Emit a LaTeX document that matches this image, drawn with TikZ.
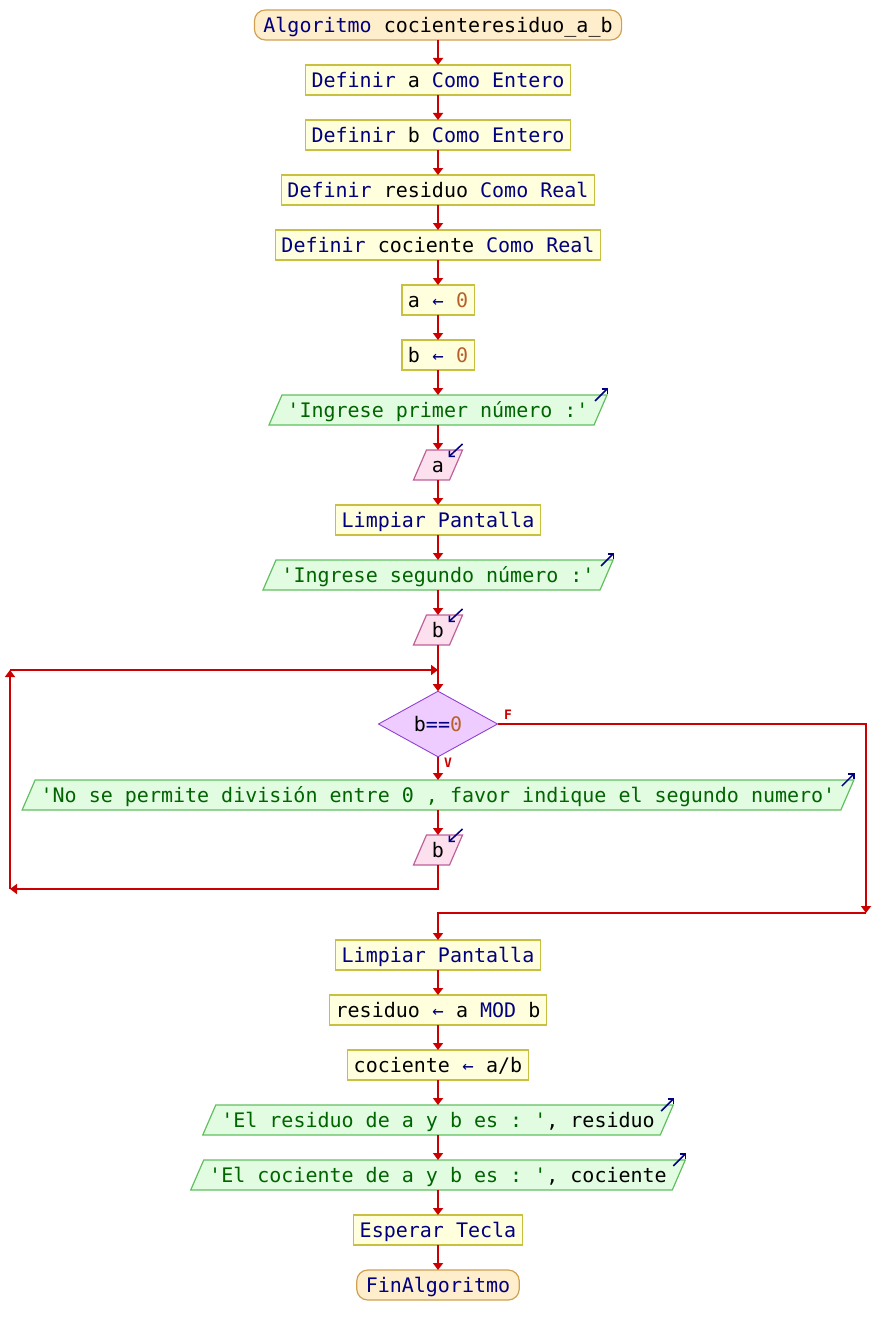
\documentclass[tikz,border=0pt]{standalone}
\usepackage{fontspec}
\setmonofont{DejaVu Sans Mono}
\usetikzlibrary{arrows.meta,shapes.geometric}
\definecolor{kw}{HTML}{000080}
\definecolor{strc}{HTML}{006400}
\definecolor{numc}{HTML}{B8602A}
\definecolor{arrc}{HTML}{CC0000}
\definecolor{boxfill}{HTML}{FFFFDD}
\definecolor{boxline}{HTML}{C8C040}
\definecolor{outfill}{HTML}{E2FCE2}
\definecolor{outline}{HTML}{60C060}
\definecolor{infill}{HTML}{FCE0EE}
\definecolor{inline}{HTML}{C0609A}
\definecolor{difill}{HTML}{EECCFF}
\definecolor{diline}{HTML}{9040D0}
\definecolor{tfill}{HTML}{FFEECC}
\definecolor{tline}{HTML}{D0A050}
\pgfdeclarelayer{bg}
\pgfsetlayers{bg,main}
\newcommand\Kw[1]{\textcolor{kw}{#1}}
\newcommand\Str[1]{\textcolor{strc}{#1}}
\newcommand\Num[1]{\textcolor{numc}{#1}}
\newcommand\Asg{\makebox[12.04pt]{\textcolor{kw}{\fontsize{19}{19}\selectfont ←}}}
\tikzset{
 base/.style={font=\ttfamily\fontsize{20}{24}\selectfont, text height=16pt, text depth=1.4pt, minimum height=30pt, inner ysep=0pt, outer sep=0pt},
 proc/.style={base, draw=boxline, fill=boxfill, line width=1.2pt, inner xsep=6pt},
 term/.style={base, draw=tline, fill=tfill, line width=1.2pt, rounded corners=11pt, inner xsep=9pt},
 iotext/.style={base, inner xsep=0pt},
 dec/.style={base, shape=diamond, draw=diline, fill=difill, line width=0.9pt, minimum width=119pt, minimum height=59pt, inner sep=0pt},
 flow/.style={draw=arrc, line width=2pt, -{Triangle[length=7pt,width=10pt]}},
 outshape/.style={draw=outline, fill=outfill, line width=1.2pt},
 inshape/.style={draw=inline, fill=infill, line width=1.2pt},
 ioarrow/.style={draw=kw, line width=1.5pt, -{Straight Barb[length=4pt,width=8pt]}},
 lbl/.style={text=arrc, font=\ttfamily\bfseries\fontsize{13}{13}\selectfont, inner sep=0pt}
}
\newcommand\OutBox[3]{%
 \node[iotext] (#1) at (438,#2) {#3};
 \begin{pgfonlayer}{bg}
 \path[outshape] ([xshift=-18.5pt]#1.south west) -- ([xshift=-5.5pt]#1.north west) -- ([xshift=18.5pt]#1.north east) -- ([xshift=5.5pt]#1.south east) -- cycle;
 \end{pgfonlayer}
 \draw[ioarrow] ([xshift=6.5pt,yshift=-6pt]#1.north east) -- ([xshift=19.5pt,yshift=7pt]#1.north east);
}
\newcommand\InBox[3]{%
 \node[iotext] (#1) at (438,#2) {#3};
 \begin{pgfonlayer}{bg}
 \path[inshape] ([xshift=-18.5pt]#1.south west) -- ([xshift=-5.5pt]#1.north west) -- ([xshift=18.5pt]#1.north east) -- ([xshift=5.5pt]#1.south east) -- cycle;
 \end{pgfonlayer}
 \draw[ioarrow] ([xshift=18.5pt,yshift=6pt]#1.north east) -- ([xshift=4.5pt,yshift=-7pt]#1.north east);
}
\begin{document}
\begin{tikzpicture}[x=1pt,y=-1pt]
\useasboundingbox (0,0) rectangle (876,1335);
\node[term] (start) at (438,25) {\Kw{Algoritmo} cocienteresiduo\_a\_b};
\node[proc] (d1) at (438,80) {\Kw{Definir} a \Kw{Como Entero}};
\node[proc] (d2) at (438,135) {\Kw{Definir} b \Kw{Como Entero}};
\node[proc] (d3) at (438,190) {\Kw{Definir} residuo \Kw{Como Real}};
\node[proc] (d4) at (438,245) {\Kw{Definir} cociente \Kw{Como Real}};
\node[proc] (a0) at (438,300) {a \Asg{} \Num{0}};
\node[proc] (b0) at (438,355) {b \Asg{} \Num{0}};
\OutBox{o1}{410}{\Str{'Ingrese primer número :'}}
\InBox{i1}{465}{a}
\node[proc] (lp1) at (438,520) {\Kw{Limpiar Pantalla}};
\OutBox{o2}{575}{\Str{'Ingrese segundo número :'}}
\InBox{in2}{630}{b}
\node[dec] (dia) at (438,724) {b\Kw{==}\Num{0}};
\OutBox{msg}{795}{\Str{'No se permite división entre 0 , favor indique el segundo numero'}}
\InBox{in3}{850}{b}
\node[proc] (lp2) at (438,955) {\Kw{Limpiar Pantalla}};
\node[proc] (res) at (438,1010) {residuo \Asg{} a \Kw{MOD} b};
\node[proc] (coc) at (438,1065) {cociente \Asg{} a/b};
\OutBox{o3}{1120}{\Str{'El residuo de a y b es : '}, residuo}
\OutBox{o4}{1175}{\Str{'El cociente de a y b es : '}, cociente}
\node[proc] (esp) at (438,1230) {\Kw{Esperar Tecla}};
\node[term] (fin) at (438,1285) {\Kw{FinAlgoritmo}};
% connectors
\draw[flow] (start.south) -- (d1.north);
\draw[flow] (d1.south) -- (d2.north);
\draw[flow] (d2.south) -- (d3.north);
\draw[flow] (d3.south) -- (d4.north);
\draw[flow] (d4.south) -- (a0.north);
\draw[flow] (a0.south) -- (b0.north);
\draw[flow] (b0.south) -- (o1.north);
\draw[flow] (o1.south) -- (i1.north);
\draw[flow] (i1.south) -- (lp1.north);
\draw[flow] (lp1.south) -- (o2.north);
\draw[flow] (o2.south) -- (in2.north);
\draw[flow] (in2.south) -- (dia.north);
\draw[flow] (dia.south) -- (msg.north);
\draw[flow] (msg.south) -- (in3.north);
\coordinate (lt) at (438,670);
\coordinate (lb) at (10,889);
\coordinate (ltl) at (10,670);
\draw[flow] (in3.south) |- (lb);
\draw[flow] (lb) -- (ltl);
\draw[flow] (ltl) -- (lt);
\coordinate (fr) at (866,913);
\draw[flow] (dia.east) -| (fr);
\draw[flow] (fr) -| (lp2.north);
\draw[flow] (lp2.south) -- (res.north);
\draw[flow] (res.south) -- (coc.north);
\draw[flow] (coc.south) -- (o3.north);
\draw[flow] (o3.south) -- (o4.north);
\draw[flow] (o4.south) -- (esp.north);
\draw[flow] (esp.south) -- (fin.north);
\node[lbl] (vlab) at (448,763) {V};
\node[lbl] (flab) at (508,715) {F};
\end{tikzpicture}
\end{document}
